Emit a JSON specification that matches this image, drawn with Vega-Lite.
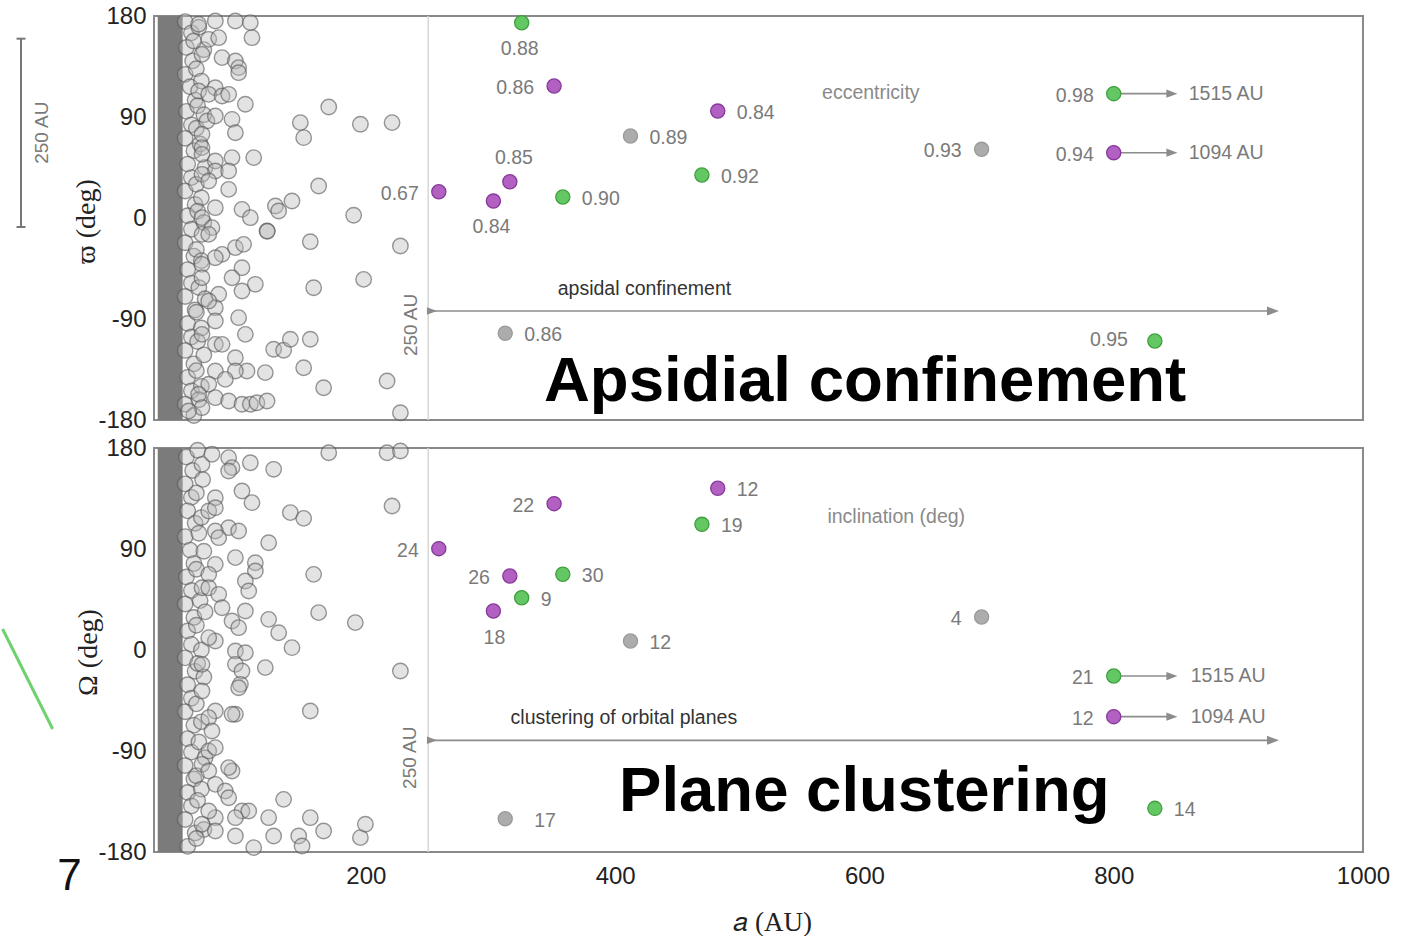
{
  "$schema": "https://vega.github.io/schema/vega-lite/v6.json",
  "background": "white",
  "padding": {"left": 0, "top": 3, "right": 0, "bottom": 0},
  "bounds": "flush",
  "spacing": 28,
  "config": {
    "view": {"stroke": "#8a8a8a", "strokeWidth": 2},
    "font": "Liberation Sans",
    "text": {"font": "Liberation Sans"}
  },
  "datasets": {
    "dense": [{"a": 33, "a2": 53, "deg": -180, "deg2": 180}],
    "limit": [{"a": 250, "deg": -180, "deg2": 180}],
    "field_varpi": [
      {"a": 55, "deg": 175}, {"a": 60, "deg": 165}, {"a": 56, "deg": 152}, {"a": 61, "deg": 140}, {"a": 55, "deg": 128}, {"a": 59, "deg": 117}, {"a": 63, "deg": 105}, {"a": 56, "deg": 95}, {"a": 60, "deg": 83}, {"a": 55, "deg": 71}, {"a": 62, "deg": 60}, {"a": 57, "deg": 48}, {"a": 60, "deg": 36}, {"a": 55, "deg": 24}, {"a": 63, "deg": 12}, {"a": 57, "deg": 2}, {"a": 60, "deg": -10}, {"a": 55, "deg": -22}, {"a": 62, "deg": -34}, {"a": 57, "deg": -46}, {"a": 60, "deg": -58}, {"a": 55, "deg": -70}, {"a": 63, "deg": -82}, {"a": 57, "deg": -94}, {"a": 60, "deg": -106}, {"a": 55, "deg": -118}, {"a": 62, "deg": -130}, {"a": 57, "deg": -142}, {"a": 60, "deg": -154}, {"a": 55, "deg": -166}, {"a": 62, "deg": -176},
      {"a": 66, "deg": 170}, {"a": 70, "deg": 150}, {"a": 64, "deg": 133}, {"a": 68, "deg": 122}, {"a": 65, "deg": 100}, {"a": 70, "deg": 92}, {"a": 64, "deg": 80}, {"a": 67, "deg": 66}, {"a": 71, "deg": 45}, {"a": 64, "deg": 30}, {"a": 68, "deg": 18}, {"a": 65, "deg": 6}, {"a": 70, "deg": -4}, {"a": 64, "deg": -28}, {"a": 68, "deg": -38}, {"a": 66, "deg": -62}, {"a": 71, "deg": -72}, {"a": 64, "deg": -84}, {"a": 68, "deg": -98}, {"a": 65, "deg": -110}, {"a": 70, "deg": -122}, {"a": 64, "deg": -136}, {"a": 68, "deg": -150}, {"a": 66, "deg": -162},
      {"a": 65.8, "deg": 172.6}, {"a": 79.2, "deg": 175.5}, {"a": 95.3, "deg": 175.5}, {"a": 107.3, "deg": 174.1}, {"a": 108.6, "deg": 160.7}, {"a": 61.8, "deg": 157.7}, {"a": 73.9, "deg": 159.2}, {"a": 81.9, "deg": 160.7}, {"a": 68.5, "deg": 145.8}, {"a": 84.6, "deg": 142.9}, {"a": 95.3, "deg": 139.9}, {"a": 97.9, "deg": 134.0}, {"a": 97.9, "deg": 129.5}, {"a": 79.2, "deg": 116.1}, {"a": 65.8, "deg": 113.2}, {"a": 73.9, "deg": 110.2}, {"a": 84.6, "deg": 108.7}, {"a": 89.9, "deg": 110.2}, {"a": 103.3, "deg": 101.3}, {"a": 92.6, "deg": 87.9}, {"a": 95.3, "deg": 76.0}, {"a": 72.5, "deg": 86.4}, {"a": 79.2, "deg": 90.9}, {"a": 68.5, "deg": 74.6}, {"a": 68.5, "deg": 62.7}, {"a": 68.5, "deg": 56.7}, {"a": 79.2, "deg": 50.8}, {"a": 92.6, "deg": 53.8}, {"a": 110.0, "deg": 53.8}, {"a": 79.2, "deg": 41.9}, {"a": 89.9, "deg": 41.9}, {"a": 68.5, "deg": 38.9}, {"a": 73.9, "deg": 33.0}, {"a": 89.9, "deg": 25.5}, {"a": 100.6, "deg": 7.7}, {"a": 107.3, "deg": 0.3}, {"a": 79.2, "deg": 9.2}, {"a": 68.5, "deg": 0.3}, {"a": 76.5, "deg": -8.6}, {"a": 68.5, "deg": -14.6}, {"a": 73.9, "deg": -14.6}, {"a": 95.3, "deg": -26.4}, {"a": 101.9, "deg": -23.5}, {"a": 84.6, "deg": -32.4}, {"a": 79.2, "deg": -35.4}, {"a": 68.5, "deg": -41.3}, {"a": 100.6, "deg": -44.3}, {"a": 111.3, "deg": -59.1}, {"a": 100.6, "deg": -65.1}, {"a": 92.6, "deg": -53.2}, {"a": 68.5, "deg": -53.2}, {"a": 81.9, "deg": -68.0}, {"a": 79.2, "deg": -79.9}, {"a": 73.9, "deg": -74.0}, {"a": 97.9, "deg": -88.8}, {"a": 79.2, "deg": -91.8}, {"a": 103.3, "deg": -103.7}, {"a": 68.5, "deg": -103.7}, {"a": 79.2, "deg": -112.6}, {"a": 84.6, "deg": -112.6}, {"a": 95.3, "deg": -124.5}, {"a": 104.6, "deg": -136.3}, {"a": 95.3, "deg": -136.3}, {"a": 79.2, "deg": -136.3}, {"a": 87.2, "deg": -143.8}, {"a": 73.9, "deg": -148.2}, {"a": 65.8, "deg": -157.1}, {"a": 79.2, "deg": -160.1}, {"a": 89.9, "deg": -163.1}, {"a": 100.6, "deg": -166.0}, {"a": 107.3, "deg": -166.0}, {"a": 112.6, "deg": -164.6}, {"a": 120.7, "deg": -163.1}, {"a": 119.3, "deg": -137.8}, {"a": 68.5, "deg": -169.0}, {"a": 57.8, "deg": -172.0},
      {"a": 170.2, "deg": 98.9}, {"a": 147.4, "deg": 85.0}, {"a": 150.1, "deg": 71.6}, {"a": 195.6, "deg": 83.5}, {"a": 221.0, "deg": 85.0}, {"a": 162.1, "deg": 28.5}, {"a": 140.7, "deg": 15.2}, {"a": 127.4, "deg": 10.7}, {"a": 130.0, "deg": 6.2}, {"a": 190.2, "deg": 2.4}, {"a": 120.7, "deg": -11.6}, {"a": 120.9, "deg": -11.8}, {"a": 155.4, "deg": -21.1}, {"a": 227.7, "deg": -25.0}, {"a": 198.2, "deg": -54.7}, {"a": 158.1, "deg": -62.1}, {"a": 126.0, "deg": -117.0}, {"a": 134.0, "deg": -117.9}, {"a": 139.4, "deg": -108.1}, {"a": 155.4, "deg": -108.1}, {"a": 150.1, "deg": -133.4}, {"a": 166.1, "deg": -151.2}, {"a": 217.0, "deg": -145.2}, {"a": 227.7, "deg": -173.5}
    ],
    "field_node": [
      {"a": 56, "deg": 172}, {"a": 61, "deg": 160}, {"a": 55, "deg": 148}, {"a": 60, "deg": 136}, {"a": 57, "deg": 124}, {"a": 63, "deg": 113}, {"a": 55, "deg": 101}, {"a": 59, "deg": 89}, {"a": 62, "deg": 77}, {"a": 56, "deg": 65}, {"a": 60, "deg": 53}, {"a": 55, "deg": 41}, {"a": 62, "deg": 29}, {"a": 57, "deg": 17}, {"a": 60, "deg": 5}, {"a": 55, "deg": -7}, {"a": 63, "deg": -19}, {"a": 57, "deg": -31}, {"a": 60, "deg": -43}, {"a": 55, "deg": -55}, {"a": 62, "deg": -67}, {"a": 57, "deg": -79}, {"a": 60, "deg": -91}, {"a": 55, "deg": -103}, {"a": 62, "deg": -115}, {"a": 57, "deg": -127}, {"a": 60, "deg": -139}, {"a": 55, "deg": -151}, {"a": 63, "deg": -163}, {"a": 57, "deg": -175},
      {"a": 65, "deg": 178}, {"a": 69, "deg": 152}, {"a": 64, "deg": 140}, {"a": 68, "deg": 118}, {"a": 66, "deg": 104}, {"a": 70, "deg": 88}, {"a": 64, "deg": 72}, {"a": 67, "deg": 44}, {"a": 71, "deg": 34}, {"a": 64, "deg": 22}, {"a": 68, "deg": 0}, {"a": 65, "deg": -12}, {"a": 70, "deg": -24}, {"a": 64, "deg": -48}, {"a": 68, "deg": -64}, {"a": 66, "deg": -82}, {"a": 71, "deg": -96}, {"a": 64, "deg": -112}, {"a": 68, "deg": -124}, {"a": 65, "deg": -134}, {"a": 70, "deg": -160}, {"a": 64, "deg": -168},
      {"a": 68.5, "deg": 165.4}, {"a": 76.5, "deg": 174.4}, {"a": 89.9, "deg": 171.4}, {"a": 92.6, "deg": 162.5}, {"a": 89.9, "deg": 159.5}, {"a": 107.3, "deg": 166.9}, {"a": 126.0, "deg": 161.0}, {"a": 170.2, "deg": 175.8}, {"a": 217.0, "deg": 175.8}, {"a": 227.7, "deg": 177.3}, {"a": 221.0, "deg": 128.3}, {"a": 100.6, "deg": 141.7}, {"a": 108.6, "deg": 131.3}, {"a": 139.4, "deg": 122.4}, {"a": 150.1, "deg": 117.3}, {"a": 79.2, "deg": 135.7}, {"a": 73.9, "deg": 123.9}, {"a": 79.2, "deg": 126.8}, {"a": 89.9, "deg": 109.0}, {"a": 97.9, "deg": 106.0}, {"a": 79.2, "deg": 106.0}, {"a": 81.9, "deg": 100.1}, {"a": 122.0, "deg": 95.6}, {"a": 158.1, "deg": 67.4}, {"a": 95.3, "deg": 82.3}, {"a": 111.3, "deg": 77.8}, {"a": 111.3, "deg": 70.4}, {"a": 103.3, "deg": 61.5}, {"a": 106.0, "deg": 52.6}, {"a": 79.2, "deg": 76.3}, {"a": 73.9, "deg": 67.4}, {"a": 68.5, "deg": 55.5}, {"a": 73.9, "deg": 55.5}, {"a": 81.9, "deg": 49.6}, {"a": 84.6, "deg": 37.7}, {"a": 103.3, "deg": 34.8}, {"a": 92.6, "deg": 25.8}, {"a": 97.9, "deg": 19.9}, {"a": 122.0, "deg": 27.3}, {"a": 130.0, "deg": 15.4}, {"a": 162.1, "deg": 33.3}, {"a": 191.5, "deg": 24.4}, {"a": 140.7, "deg": 2.1}, {"a": 95.3, "deg": -0.9}, {"a": 103.3, "deg": -2.4}, {"a": 95.3, "deg": -12.8}, {"a": 100.6, "deg": -18.7}, {"a": 99.3, "deg": -30.6}, {"a": 97.9, "deg": -33.6}, {"a": 119.3, "deg": -15.7}, {"a": 79.2, "deg": 8.0}, {"a": 73.9, "deg": 11.0}, {"a": 68.5, "deg": -12.8}, {"a": 68.5, "deg": -36.5}, {"a": 227.7, "deg": -18.7}, {"a": 155.4, "deg": -54.4}, {"a": 95.3, "deg": -57.3}, {"a": 92.6, "deg": -57.3}, {"a": 79.2, "deg": -54.4}, {"a": 73.9, "deg": -60.3}, {"a": 76.5, "deg": -72.2}, {"a": 73.9, "deg": -90.0}, {"a": 79.2, "deg": -87.0}, {"a": 68.5, "deg": -101.9}, {"a": 73.9, "deg": -107.8}, {"a": 92.6, "deg": -107.8}, {"a": 89.9, "deg": -104.8}, {"a": 79.2, "deg": -119.7}, {"a": 87.2, "deg": -125.6}, {"a": 89.9, "deg": -131.6}, {"a": 100.6, "deg": -143.5}, {"a": 106.0, "deg": -143.5}, {"a": 95.3, "deg": -149.4}, {"a": 79.2, "deg": -149.4}, {"a": 73.9, "deg": -143.5}, {"a": 68.5, "deg": -155.3}, {"a": 79.2, "deg": -161.3}, {"a": 95.3, "deg": -165.7}, {"a": 110.0, "deg": -176.1}, {"a": 122.0, "deg": -149.4}, {"a": 126.0, "deg": -165.7}, {"a": 134.0, "deg": -133.1}, {"a": 146.1, "deg": -165.7}, {"a": 155.4, "deg": -149.4}, {"a": 166.1, "deg": -161.3}, {"a": 148.8, "deg": -174.6}, {"a": 195.6, "deg": -167.2}, {"a": 199.6, "deg": -155.3}
    ],
    "objects": [
      {"panel": "varpi", "a": 325, "deg": 174.0, "group": "green", "label": "0.88", "side": "below"},
      {"panel": "varpi", "a": 351, "deg": 117.6, "group": "purple", "label": "0.86", "side": "left"},
      {"panel": "varpi", "a": 482.3, "deg": 95.3, "group": "purple", "label": "0.84", "side": "right"},
      {"panel": "varpi", "a": 412.3, "deg": 73.1, "group": "gray", "label": "0.89", "side": "right"},
      {"panel": "varpi", "a": 315.5, "deg": 32.3, "group": "purple", "label": "0.85", "side": "above"},
      {"panel": "varpi", "a": 258.5, "deg": 23.4, "group": "purple", "label": "0.67", "side": "left"},
      {"panel": "varpi", "a": 302.3, "deg": 15.1, "group": "purple", "label": "0.84", "side": "below"},
      {"panel": "varpi", "a": 358, "deg": 18.7, "group": "green", "label": "0.90", "side": "right"},
      {"panel": "varpi", "a": 469.6, "deg": 38.3, "group": "green", "label": "0.92", "side": "right"},
      {"panel": "varpi", "a": 311.8, "deg": -102.7, "group": "gray", "label": "0.86", "side": "right"},
      {"panel": "varpi", "a": 694, "deg": 61.2, "group": "gray", "label": "0.93", "side": "left"},
      {"panel": "varpi", "a": 800, "deg": 110.8, "group": "green", "label": "0.98", "side": "left"},
      {"panel": "varpi", "a": 800, "deg": 58.2, "group": "purple", "label": "0.94", "side": "left"},
      {"panel": "varpi", "a": 833, "deg": -109.6, "group": "green", "label": "0.95", "side": "farleft"},
      {"panel": "node", "a": 482.3, "deg": 144.1, "group": "purple", "label": "12", "side": "right"},
      {"panel": "node", "a": 351, "deg": 130.4, "group": "purple", "label": "22", "side": "left"},
      {"panel": "node", "a": 469.6, "deg": 112.0, "group": "green", "label": "19", "side": "right"},
      {"panel": "node", "a": 258.5, "deg": 90.3, "group": "purple", "label": "24", "side": "left"},
      {"panel": "node", "a": 315.5, "deg": 65.9, "group": "purple", "label": "26", "side": "left"},
      {"panel": "node", "a": 358, "deg": 67.5, "group": "green", "label": "30", "side": "right"},
      {"panel": "node", "a": 325, "deg": 46.6, "group": "green", "label": "9", "side": "right"},
      {"panel": "node", "a": 302.3, "deg": 34.8, "group": "purple", "label": "18", "side": "below"},
      {"panel": "node", "a": 412.3, "deg": 8.0, "group": "gray", "label": "12", "side": "right"},
      {"panel": "node", "a": 694, "deg": 29.4, "group": "gray", "label": "4", "side": "left"},
      {"panel": "node", "a": 800, "deg": -23.2, "group": "green", "label": "21", "side": "left"},
      {"panel": "node", "a": 800, "deg": -59.4, "group": "purple", "label": "12", "side": "left"},
      {"panel": "node", "a": 833, "deg": -141.1, "group": "green", "label": "14", "side": "right"},
      {"panel": "node", "a": 311.8, "deg": -150.3, "group": "gray", "label": "17", "side": "farright"}
    ],
    "arrows": [
      {"panel": "varpi", "a": 250, "a2": 926, "deg": -82.9},
      {"panel": "varpi", "a": 800, "a2": 845, "deg": 110.8},
      {"panel": "varpi", "a": 800, "a2": 845, "deg": 58.2},
      {"panel": "node", "a": 250, "a2": 926, "deg": -80.5},
      {"panel": "node", "a": 800, "a2": 845, "deg": -23.2},
      {"panel": "node", "a": 800, "a2": 845, "deg": -59.4}
    ],
    "heads": [
      {"panel": "varpi", "a": 927.8, "deg": -82.9, "kind": "main"},
      {"panel": "varpi", "a": 253, "deg": -82.9, "kind": "tail"},
      {"panel": "varpi", "a": 846.7, "deg": 110.8, "kind": "far"},
      {"panel": "varpi", "a": 846.7, "deg": 58.2, "kind": "far"},
      {"panel": "node", "a": 927.8, "deg": -80.5, "kind": "main"},
      {"panel": "node", "a": 253, "deg": -80.5, "kind": "tail"},
      {"panel": "node", "a": 846.7, "deg": -23.2, "kind": "far"},
      {"panel": "node", "a": 846.7, "deg": -59.4, "kind": "far"}
    ],
    "far": [
      {"panel": "varpi", "a": 800, "deg": 110.8, "dist": "1515 AU"},
      {"panel": "varpi", "a": 800, "deg": 58.2, "dist": "1094 AU"},
      {"panel": "node", "a": 800, "deg": -23.2, "dist": "1515 AU"},
      {"panel": "node", "a": 800, "deg": -59.4, "dist": "1094 AU"}
    ],
    "notes": [
      {"panel": "varpi", "a": 566.0, "deg": 111.7, "text": "eccentricity", "kind": "note"},
      {"panel": "varpi", "a": 353.9, "deg": -63.5, "text": "apsidal confinement", "kind": "caption"},
      {"panel": "varpi", "a": 342.9, "deg": -163.1, "text": "Apsidial confinement", "kind": "headline"},
      {"panel": "varpi", "a": 236, "deg": -95.3, "text": "250 AU", "kind": "scale"},
      {"panel": "varpi", "a": -59.9, "deg": 76.0, "text": "250 AU", "kind": "scale"},
      {"panel": "node", "a": 570.3, "deg": 118.5, "text": "inclination (deg)", "kind": "note"},
      {"panel": "node", "a": 316.1, "deg": -60.9, "text": "clustering of orbital planes", "kind": "caption"},
      {"panel": "node", "a": 403.1, "deg": -143.5, "text": "Plane clustering", "kind": "headline"},
      {"panel": "node", "a": 235, "deg": -96.0, "text": "250 AU", "kind": "scale"},
      {"panel": "node", "a": -37.8, "deg": -202.3, "text": "7", "kind": "figno"}
    ],
    "scalebar": [{"a": -76.7, "deg": 159.8, "deg2": -8.0}],
    "scalecaps": [{"a": -76.7, "deg": 159.8}, {"a": -76.7, "deg": -8.0}],
    "stroke": [{"a": -91.5, "a2": -51.3, "deg": 18.7, "deg2": -70.4}]
  },
  "vconcat": [
    {
      "width": 1209,
      "height": 404,
      "encoding": {
        "x": {"field": "a", "type": "quantitative", "scale": {"domain": [30, 1000], "nice": false, "zero": false}, "axis": null},
        "y": {
          "field": "deg", "type": "quantitative",
          "scale": {"domain": [-180, 180], "nice": false, "zero": false},
          "axis": {
            "values": [-180, -90, 0, 90, 180], "labelExpr": "replace(datum.label, '−', '-')", "ticks": false, "tickSize": 0, "domain": false, "grid": false,
            "labelFont": "Liberation Sans", "labelFontSize": 24, "labelColor": "#222222", "labelPadding": 8,
            "title": "ϖ (deg)", "titleFont": "Liberation Serif", "titleFontSize": 28, "titleFontWeight": "normal", "titleColor": "#222222",
            "titleX": -68, "titleY": 205, "titleAngle": 270, "titleAlign": "center", "titleBaseline": "middle"
          }
        }
      },
      "layer": [
        {"data": {"name": "dense"}, "mark": {"type": "rect", "color": "#7b7b7b"}, "encoding": {"x2": {"field": "a2"}, "y2": {"field": "deg2"}}},
        {"data": {"name": "field_varpi"}, "mark": {"type": "circle", "size": 240, "fill": "#b8b8b8", "fillOpacity": 0.4, "stroke": "#555555", "strokeOpacity": 0.6, "strokeWidth": 1.4}},
        {"data": {"name": "limit"}, "mark": {"type": "rule", "color": "#d6d6d6", "strokeWidth": 1.5}, "encoding": {"y2": {"field": "deg2"}}},
        {"data": {"name": "arrows"}, "transform": [{"filter": "datum.panel === 'varpi'"}], "mark": {"type": "rule", "color": "#8c8c8c", "strokeWidth": 1.6}, "encoding": {"x2": {"field": "a2"}}},
        {"data": {"name": "heads"}, "transform": [{"filter": "datum.panel === 'varpi'"}], "mark": {"type": "point", "shape": "M-1,-0.75L1,0L-1,0.75Z", "filled": true, "color": "#8c8c8c", "opacity": 1}, "encoding": {"size": {"field": "kind", "type": "ordinal", "scale": {"domain": ["main", "far", "tail"], "range": [144, 100, 36]}, "legend": null}}},
        {"data": {"name": "objects"}, "transform": [{"filter": "datum.panel === 'varpi'"}], "mark": {"type": "circle", "size": 200, "opacity": 1, "strokeWidth": 1.3},
          "encoding": {
            "fill": {"field": "group", "type": "nominal", "scale": {"domain": ["green", "purple", "gray"], "range": ["#63c763", "#b260c2", "#acacac"]}, "legend": null},
            "stroke": {"field": "group", "type": "nominal", "scale": {"domain": ["green", "purple", "gray"], "range": ["#3f9f3f", "#86399a", "#9a9a9a"]}, "legend": null}
          }},
        {"data": {"name": "objects"}, "transform": [{"filter": "datum.panel === 'varpi' && datum.side === 'right'"}], "mark": {"type": "text", "align": "left", "baseline": "middle", "dx": 19, "dy": 2, "fontSize": 19.5, "color": "#7a7a7a"}, "encoding": {"text": {"field": "label"}}},
        {"data": {"name": "objects"}, "transform": [{"filter": "datum.panel === 'varpi' && datum.side === 'left'"}], "mark": {"type": "text", "align": "right", "baseline": "middle", "dx": -20, "dy": 2, "fontSize": 19.5, "color": "#7a7a7a"}, "encoding": {"text": {"field": "label"}}},
        {"data": {"name": "objects"}, "transform": [{"filter": "datum.panel === 'varpi' && datum.side === 'farleft'"}], "mark": {"type": "text", "align": "right", "baseline": "middle", "dx": -27, "dy": -1, "fontSize": 19.5, "color": "#7a7a7a"}, "encoding": {"text": {"field": "label"}}},
        {"data": {"name": "objects"}, "transform": [{"filter": "datum.panel === 'varpi' && datum.side === 'above'"}], "mark": {"type": "text", "align": "center", "baseline": "middle", "dx": 4, "dy": -24, "fontSize": 19.5, "color": "#7a7a7a"}, "encoding": {"text": {"field": "label"}}},
        {"data": {"name": "objects"}, "transform": [{"filter": "datum.panel === 'varpi' && datum.side === 'below'"}], "mark": {"type": "text", "align": "center", "baseline": "middle", "dx": -2, "dy": 26, "fontSize": 19.5, "color": "#7a7a7a"}, "encoding": {"text": {"field": "label"}}},
        {"data": {"name": "far"}, "transform": [{"filter": "datum.panel === 'varpi'"}], "mark": {"type": "text", "align": "left", "baseline": "middle", "dx": 75, "fontSize": 19.5, "color": "#7a7a7a"}, "encoding": {"text": {"field": "dist"}}},
        {"data": {"name": "notes"}, "transform": [{"filter": "datum.panel === 'varpi' && datum.kind === 'note'"}], "mark": {"type": "text", "align": "left", "baseline": "middle", "fontSize": 19.5, "color": "#8a8a8a"}, "encoding": {"text": {"field": "text"}}},
        {"data": {"name": "notes"}, "transform": [{"filter": "datum.panel === 'varpi' && datum.kind === 'caption'"}], "mark": {"type": "text", "align": "left", "baseline": "middle", "fontSize": 19.5, "color": "#333333"}, "encoding": {"text": {"field": "text"}}},
        {"data": {"name": "notes"}, "transform": [{"filter": "datum.panel === 'varpi' && datum.kind === 'headline'"}], "mark": {"type": "text", "align": "left", "baseline": "alphabetic", "fontSize": 63.5, "fontWeight": "bold", "color": "#000000"}, "encoding": {"text": {"field": "text"}}},
        {"data": {"name": "notes"}, "transform": [{"filter": "datum.panel === 'varpi' && datum.kind === 'scale'"}], "mark": {"type": "text", "align": "center", "baseline": "middle", "angle": 270, "fontSize": 19, "color": "#7a7a7a"}, "encoding": {"text": {"field": "text"}}},
        {"data": {"name": "scalebar"}, "mark": {"type": "rule", "color": "#777777", "strokeWidth": 2}, "encoding": {"y2": {"field": "deg2"}}},
        {"data": {"name": "scalecaps"}, "mark": {"type": "point", "shape": "M-1,0L1,0", "filled": false, "color": "#777777", "strokeWidth": 2, "size": 81, "opacity": 1}}
      ]
    },
    {
      "width": 1209,
      "height": 404,
      "encoding": {
        "x": {
          "field": "a", "type": "quantitative",
          "scale": {"domain": [30, 1000], "nice": false, "zero": false},
          "axis": {
            "values": [200, 400, 600, 800, 1000], "format": "d", "labelFlush": false, "ticks": false, "tickSize": 0, "domain": false, "grid": false,
            "labelFont": "Liberation Sans", "labelFontSize": 24, "labelColor": "#222222", "labelPadding": 12,
            "title": "𝑎 (AU)", "titleFont": "Liberation Serif", "titleFontSize": 27, "titleFontWeight": "normal", "titleColor": "#222222",
            "titleX": 618, "titleY": 78, "titleAlign": "center", "titleBaseline": "alphabetic"
          }
        },
        "y": {
          "field": "deg", "type": "quantitative",
          "scale": {"domain": [-180, 180], "nice": false, "zero": false},
          "axis": {
            "values": [-180, -90, 0, 90, 180], "labelExpr": "replace(datum.label, '−', '-')", "ticks": false, "tickSize": 0, "domain": false, "grid": false,
            "labelFont": "Liberation Sans", "labelFontSize": 24, "labelColor": "#222222", "labelPadding": 8,
            "title": "Ω (deg)", "titleFont": "Liberation Serif", "titleFontSize": 28, "titleFontWeight": "normal", "titleColor": "#222222",
            "titleX": -66, "titleY": 204, "titleAngle": 270, "titleAlign": "center", "titleBaseline": "middle"
          }
        }
      },
      "layer": [
        {"data": {"name": "dense"}, "mark": {"type": "rect", "color": "#7b7b7b"}, "encoding": {"x2": {"field": "a2"}, "y2": {"field": "deg2"}}},
        {"data": {"name": "field_node"}, "mark": {"type": "circle", "size": 240, "fill": "#b8b8b8", "fillOpacity": 0.4, "stroke": "#555555", "strokeOpacity": 0.6, "strokeWidth": 1.4}},
        {"data": {"name": "limit"}, "mark": {"type": "rule", "color": "#d6d6d6", "strokeWidth": 1.5}, "encoding": {"y2": {"field": "deg2"}}},
        {"data": {"name": "arrows"}, "transform": [{"filter": "datum.panel === 'node'"}], "mark": {"type": "rule", "color": "#8c8c8c", "strokeWidth": 1.6}, "encoding": {"x2": {"field": "a2"}}},
        {"data": {"name": "heads"}, "transform": [{"filter": "datum.panel === 'node'"}], "mark": {"type": "point", "shape": "M-1,-0.75L1,0L-1,0.75Z", "filled": true, "color": "#8c8c8c", "opacity": 1}, "encoding": {"size": {"field": "kind", "type": "ordinal", "scale": {"domain": ["main", "far", "tail"], "range": [144, 100, 36]}, "legend": null}}},
        {"data": {"name": "objects"}, "transform": [{"filter": "datum.panel === 'node'"}], "mark": {"type": "circle", "size": 200, "opacity": 1, "strokeWidth": 1.3},
          "encoding": {
            "fill": {"field": "group", "type": "nominal", "scale": {"domain": ["green", "purple", "gray"], "range": ["#63c763", "#b260c2", "#acacac"]}, "legend": null},
            "stroke": {"field": "group", "type": "nominal", "scale": {"domain": ["green", "purple", "gray"], "range": ["#3f9f3f", "#86399a", "#9a9a9a"]}, "legend": null}
          }},
        {"data": {"name": "objects"}, "transform": [{"filter": "datum.panel === 'node' && datum.side === 'right'"}], "mark": {"type": "text", "align": "left", "baseline": "middle", "dx": 19, "dy": 2, "fontSize": 19.5, "color": "#7a7a7a"}, "encoding": {"text": {"field": "label"}}},
        {"data": {"name": "objects"}, "transform": [{"filter": "datum.panel === 'node' && datum.side === 'farright'"}], "mark": {"type": "text", "align": "left", "baseline": "middle", "dx": 29, "dy": 2, "fontSize": 19.5, "color": "#7a7a7a"}, "encoding": {"text": {"field": "label"}}},
        {"data": {"name": "objects"}, "transform": [{"filter": "datum.panel === 'node' && datum.side === 'left'"}], "mark": {"type": "text", "align": "right", "baseline": "middle", "dx": -20, "dy": 2, "fontSize": 19.5, "color": "#7a7a7a"}, "encoding": {"text": {"field": "label"}}},
        {"data": {"name": "objects"}, "transform": [{"filter": "datum.panel === 'node' && datum.side === 'below'"}], "mark": {"type": "text", "align": "center", "baseline": "middle", "dx": 1, "dy": 27, "fontSize": 19.5, "color": "#7a7a7a"}, "encoding": {"text": {"field": "label"}}},
        {"data": {"name": "far"}, "transform": [{"filter": "datum.panel === 'node'"}], "mark": {"type": "text", "align": "left", "baseline": "middle", "dx": 77, "fontSize": 19.5, "color": "#7a7a7a"}, "encoding": {"text": {"field": "dist"}}},
        {"data": {"name": "notes"}, "transform": [{"filter": "datum.panel === 'node' && datum.kind === 'note'"}], "mark": {"type": "text", "align": "left", "baseline": "middle", "fontSize": 19.5, "color": "#8a8a8a"}, "encoding": {"text": {"field": "text"}}},
        {"data": {"name": "notes"}, "transform": [{"filter": "datum.panel === 'node' && datum.kind === 'caption'"}], "mark": {"type": "text", "align": "left", "baseline": "middle", "fontSize": 19.5, "color": "#333333"}, "encoding": {"text": {"field": "text"}}},
        {"data": {"name": "notes"}, "transform": [{"filter": "datum.panel === 'node' && datum.kind === 'headline'"}], "mark": {"type": "text", "align": "left", "baseline": "alphabetic", "fontSize": 63.5, "fontWeight": "bold", "color": "#000000"}, "encoding": {"text": {"field": "text"}}},
        {"data": {"name": "notes"}, "transform": [{"filter": "datum.panel === 'node' && datum.kind === 'scale'"}], "mark": {"type": "text", "align": "center", "baseline": "middle", "angle": 270, "fontSize": 19, "color": "#7a7a7a"}, "encoding": {"text": {"field": "text"}}},
        {"data": {"name": "notes"}, "transform": [{"filter": "datum.panel === 'node' && datum.kind === 'figno'"}], "mark": {"type": "text", "align": "center", "baseline": "middle", "fontSize": 44, "color": "#111111"}, "encoding": {"text": {"field": "text"}}},
        {"data": {"name": "stroke"}, "mark": {"type": "rule", "color": "#6fd26f", "strokeWidth": 3, "strokeCap": "butt"}, "encoding": {"x2": {"field": "a2"}, "y2": {"field": "deg2"}}}
      ]
    }
  ]
}
